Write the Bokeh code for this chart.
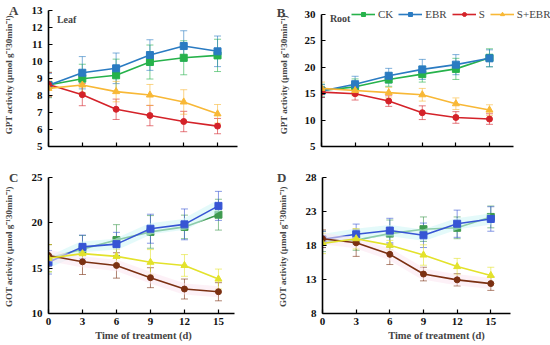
from bokeh.plotting import figure
from bokeh.layouts import column, row
from bokeh.models import (Range1d, ColumnDataSource, Whisker, TeeHead, Label, Legend,
                          LegendItem, FixedTicker, LinearAxis)
from bokeh.embed import file_html
from bokeh.resources import INLINE

days = [0, 3, 6, 9, 12, 15]
series_names = ["CK", "EBR", "S", "S+EBR"]

# Panel A: GPT activity, leaf
gpt_leaf_ck = [8.62, 8.99, 9.19, 9.97, 10.22, 10.36]
gpt_leaf_ck_err = [0.75, 0.85, 0.95, 1.0, 1.0, 0.95]
gpt_leaf_ebr = [8.6, 9.34, 9.6, 10.38, 10.91, 10.6]
gpt_leaf_ebr_err = [0.7, 0.95, 0.9, 0.9, 0.9, 0.9]
gpt_leaf_s = [8.65, 8.05, 7.19, 6.82, 6.47, 6.2]
gpt_leaf_s_err = [0.7, 0.65, 0.6, 0.6, 0.6, 0.45]
gpt_leaf_sebr = [8.42, 8.62, 8.23, 8.03, 7.62, 6.92]
gpt_leaf_sebr_err = [0.5, 0.45, 0.6, 0.62, 0.72, 0.55]

# Panel B: GPT activity, root
gpt_root_ck = [15.6, 16.3, 17.7, 18.7, 19.7, 21.8]
gpt_root_ck_err = [1.2, 1.5, 1.3, 1.5, 2.0, 1.7]
gpt_root_ebr = [15.5, 16.8, 18.4, 19.6, 20.5, 21.7]
gpt_root_ebr_err = [1.2, 1.5, 1.4, 1.9, 1.9, 1.6]
gpt_root_s = [15.3, 15.0, 13.6, 11.4, 10.5, 10.2]
gpt_root_s_err = [1.0, 1.2, 1.0, 1.3, 1.1, 1.0]
gpt_root_sebr = [16.0, 15.6, 15.2, 14.8, 13.1, 11.9]
gpt_root_sebr_err = [1.2, 1.0, 1.0, 1.2, 1.1, 1.0]

# Panel C: GOT activity, leaf
got_leaf_ck = [16.1, 17.1, 18.1, 19.0, 19.55, 20.9]
got_leaf_ck_err = [1.5, 1.5, 1.7, 1.8, 1.3, 1.7]
got_leaf_ebr = [15.65, 17.35, 17.65, 19.35, 19.83, 21.87]
got_leaf_ebr_err = [1.3, 1.3, 1.3, 1.6, 1.7, 1.6]
got_leaf_s = [16.4, 15.7, 15.3, 13.95, 12.7, 12.4]
got_leaf_s_err = [1.2, 1.4, 1.4, 1.1, 1.1, 1.0]
got_leaf_sebr = [16.1, 16.6, 16.3, 15.65, 15.3, 13.8]
got_leaf_sebr_err = [1.5, 1.0, 0.8, 1.4, 1.2, 1.1]

# Panel D: GOT activity, root
got_root_ck = [18.6, 18.8, 19.75, 20.4, 20.6, 22.2]
got_root_ck_err = [1.5, 1.5, 2.0, 1.8, 1.6, 1.6]
got_root_ebr = [18.9, 19.65, 20.2, 19.5, 21.2, 21.9]
got_root_ebr_err = [1.2, 1.5, 1.8, 1.8, 2.0, 1.8]
got_root_s = [19.0, 18.4, 16.7, 13.8, 12.95, 12.4]
got_root_s_err = [1.3, 2.0, 1.5, 1.0, 0.9, 1.0]
got_root_sebr = [18.3, 19.0, 18.05, 16.6, 14.9, 13.6]
got_root_sebr_err = [1.5, 1.5, 0.7, 1.5, 1.2, 1.2]

gpt_yticks_a = [5, 6, 7, 8, 9, 10, 11, 12, 13]
gpt_yticks_b = [5, 10, 15, 20, 25, 30]
got_yticks_c = [10, 15, 20, 25]
got_yticks_d = [8, 13, 18, 23, 28]

FONT = "Liberation Serif"
top_colors = ["#26b24b", "#2a7bc2", "#d42229", "#f8b836"]
bot_colors = ["#3e9a4f", "#3755d4", "#7b3012", "#e3e22b"]
halo_colors = [None, "#cdf5f5", "#fce6f1", None]
markers = ["square", "square", "circle", "triangle"]
msizes = [7, 7, 6, 7]


def make_fig(w, h, xr, yr, xbounds, ybounds, yticks, borders, ylabel,
             letter, letter_y, letter_standoff, ylab_standoff, show_x):
    left, right, top, bottom = borders
    p = figure(width=w, height=h, x_range=Range1d(*xr), y_range=Range1d(*yr),
               title=None, output_backend="svg", toolbar_location=None,
               min_border_left=left, min_border_right=right,
               min_border_top=top, min_border_bottom=bottom)
    p.grid.visible = False
    p.outline_line_color = None
    p.background_fill_color = "white"
    p.xaxis.ticker = FixedTicker(ticks=days)
    p.yaxis.ticker = FixedTicker(ticks=yticks)
    p.xaxis.bounds = xbounds
    p.yaxis.bounds = ybounds
    for ax in (p.xaxis[0], p.yaxis[0]):
        ax.axis_line_color = "black"
        ax.axis_line_width = 1.6
        ax.major_tick_in = 4
        ax.major_tick_out = 0
        ax.major_tick_line_color = "black"
        ax.major_tick_line_width = 1.2
        ax.minor_tick_line_color = None
        ax.minor_tick_in = 0
        ax.minor_tick_out = 0
        ax.major_label_text_font = FONT
        ax.major_label_text_font_size = "11px"
        ax.major_label_text_font_style = "bold"
        ax.major_label_text_color = "#111111"
    p.yaxis.major_label_standoff = 6
    # outer left axis carrying the panel letter and the y title
    lax = LinearAxis(ticker=FixedTicker(ticks=[letter_y]),
                     major_label_overrides={letter_y: letter},
                     axis_line_color=None, major_tick_line_color=None,
                     minor_tick_line_color=None,
                     major_tick_in=0, major_tick_out=0, minor_tick_in=0, minor_tick_out=0,
                     major_label_text_font=FONT, major_label_text_font_size="13px",
                     major_label_text_font_style="bold",
                     major_label_standoff=letter_standoff,
                     axis_label=ylabel, axis_label_text_font=FONT,
                     axis_label_text_font_size="9px", axis_label_text_font_style="bold",
                     axis_label_standoff=ylab_standoff)
    p.add_layout(lax, "left")
    if show_x:
        p.xaxis.major_label_standoff = 4
        p.xaxis.axis_label = "Time of treatment (d)"
        p.xaxis.axis_label_text_font = FONT
        p.xaxis.axis_label_text_font_size = "10.5px"
        p.xaxis.axis_label_text_font_style = "bold"
        p.xaxis.axis_label_standoff = 2
    else:
        p.xaxis.major_label_overrides = {d: "" for d in days}
        p.xaxis.major_label_text_font_size = "2px"
        p.xaxis.major_label_standoff = 0
    return p


def add_series(p, vals, errs, colors, halos=None):
    rends = []
    for i, (name, v, e, c, m, ms) in enumerate(zip(series_names, vals, errs, colors, markers, msizes)):
        src = ColumnDataSource(dict(x=days, y=v,
                                    lo=[a - b for a, b in zip(v, e)],
                                    hi=[a + b for a, b in zip(v, e)]))
        if halos and halos[i]:
            p.line("x", "y", source=src, line_color=halos[i], line_width=11, line_alpha=0.55)
        wk = Whisker(source=src, base="x", lower="lo", upper="hi",
                     line_color=c, line_alpha=0.6, line_width=1,
                     upper_head=TeeHead(size=7, line_color=c, line_alpha=0.6, line_width=1),
                     lower_head=TeeHead(size=7, line_color=c, line_alpha=0.6, line_width=1))
        p.add_layout(wk)
        l = p.line("x", "y", source=src, line_color=c, line_width=1.6)
        s = p.scatter("x", "y", source=src, marker=m, size=ms, fill_color=c, line_color=c)
        rends.append((name, [l, s]))
    return rends


YL_GPT = "GPT activity  (μmol g⁻¹30min⁻¹)"
YL_GOT = "GOT activity  (μmol g⁻¹30min⁻¹)"

# Row 1 (frames share top/bottom borders within a row, left/right within a column)
pa = make_fig(275, 168, (0, 16.86), (5, 13.59), (0, 16.77), (5, 13), gpt_yticks_a,
              (48, 37, 0, 22), YL_GPT, "A", 13, 10, -8, False)
add_series(pa, [gpt_leaf_ck, gpt_leaf_ebr, gpt_leaf_s, gpt_leaf_sebr],
           [gpt_leaf_ck_err, gpt_leaf_ebr_err, gpt_leaf_s_err, gpt_leaf_sebr_err], top_colors)
pa.add_layout(Label(x=0.75, y=12.47, text="Leaf", text_font=FONT, text_font_size="10px",
                    text_font_style="bold", text_baseline="middle"))

pb = make_fig(275, 168, (0, 20.45), (5, 32.65), (0, 17.14), (5, 30), gpt_yticks_b,
              (46, 0, 0, 22), YL_GPT, "B", 30.3, 16, -15, False)
rb = add_series(pb, [gpt_root_ck, gpt_root_ebr, gpt_root_s, gpt_root_sebr],
                [gpt_root_ck_err, gpt_root_ebr_err, gpt_root_s_err, gpt_root_sebr_err], top_colors)
pb.add_layout(Label(x=0.75, y=29.24, text="Root", text_font=FONT, text_font_size="10px",
                    text_font_style="bold", text_baseline="middle"))
leg = Legend(items=[LegendItem(label=n, renderers=r) for n, r in rb],
             orientation="horizontal", location=(30, 126),
             label_text_font=FONT, label_text_font_size="11px",
             glyph_width=24, glyph_height=10, label_standoff=3, spacing=5,
             padding=0, margin=0, border_line_color=None, background_fill_alpha=0,
             label_height=10, label_width=0)
pb.add_layout(leg)

# Row 2
pc = make_fig(275, 177, (0, 16.77), (10, 25), (0, 16.41), (10, 25), got_yticks_c,
              (48, 37, 9, 32), YL_GOT, "C", 25, 10, -8, True)
add_series(pc, [got_leaf_ck, got_leaf_ebr, got_leaf_s, got_leaf_sebr],
           [got_leaf_ck_err, got_leaf_ebr_err, got_leaf_s_err, got_leaf_sebr_err],
           bot_colors, halo_colors)

pd_ = make_fig(275, 177, (0, 20.32), (8, 28), (0, 16.77), (8, 28), got_yticks_d,
               (46, 0, 9, 32), YL_GOT, "D", 28, 16, -14, True)
add_series(pd_, [got_root_ck, got_root_ebr, got_root_s, got_root_sebr],
           [got_root_ck_err, got_root_ebr_err, got_root_s_err, got_root_sebr_err],
           bot_colors, halo_colors)

layout = column(row(pa, pb), row(pc, pd_))
open("out.html", "w").write(file_html(layout, INLINE))
